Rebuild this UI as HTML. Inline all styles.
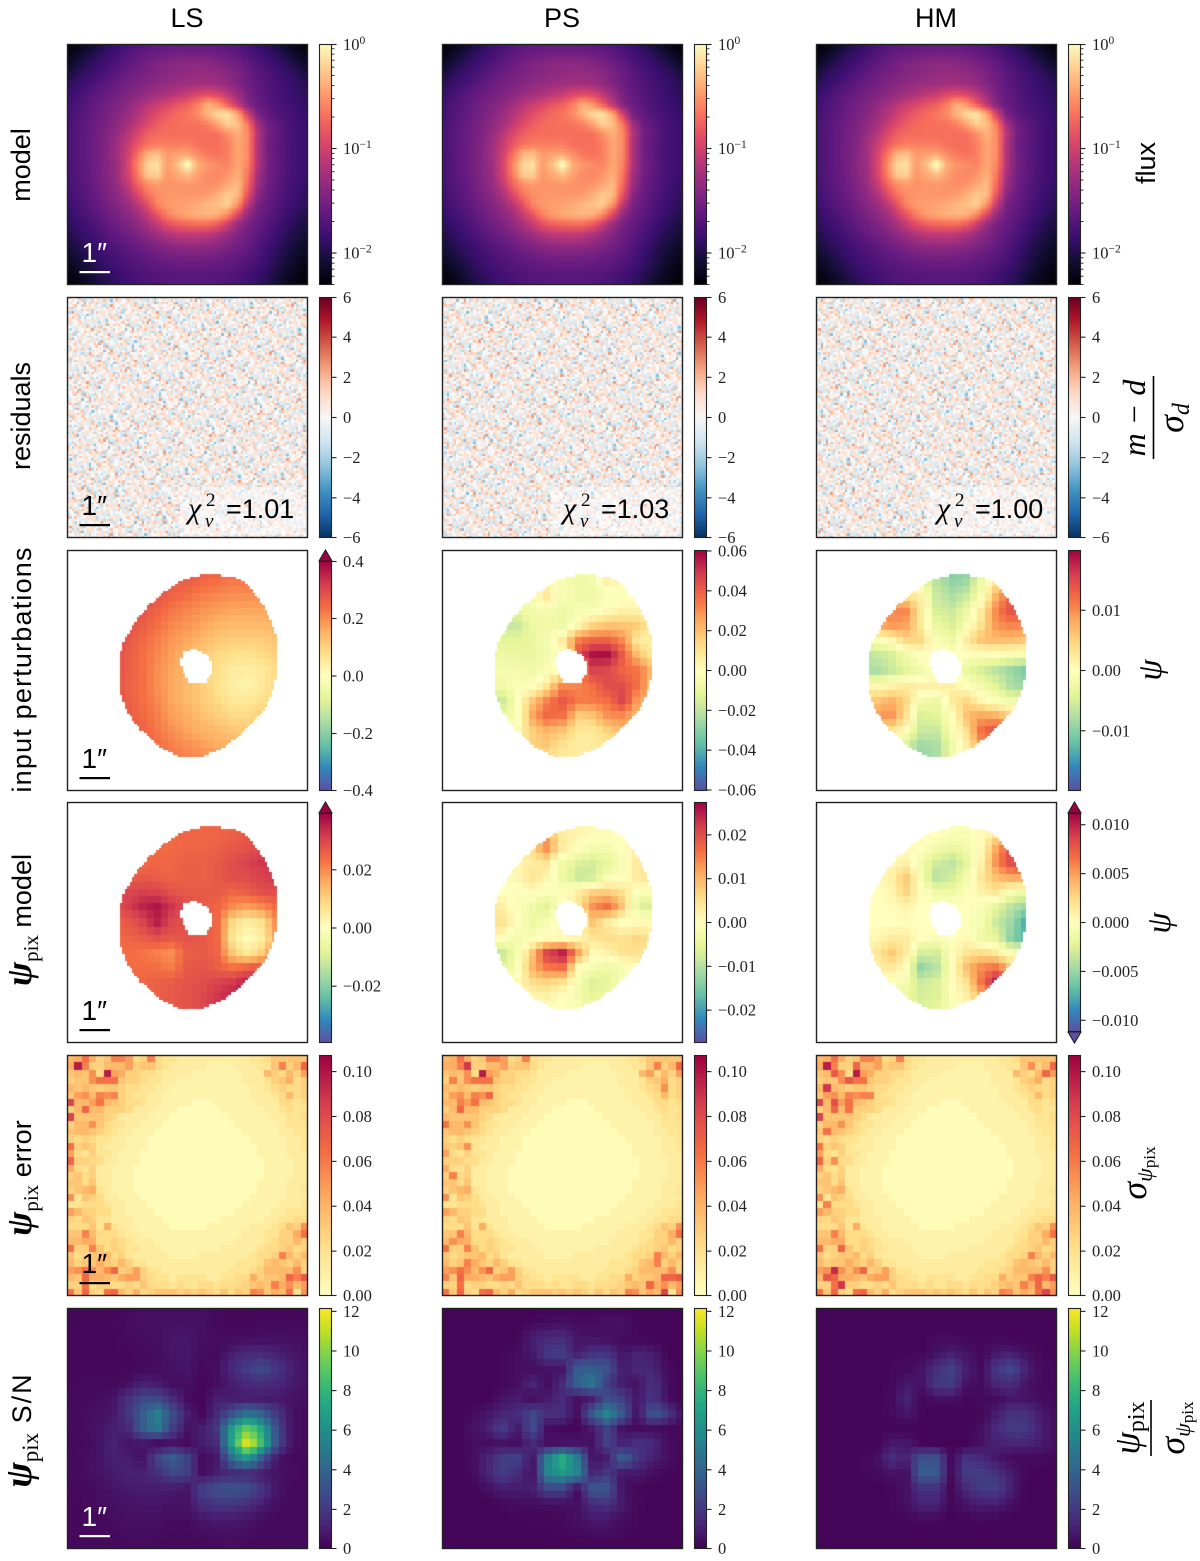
<!DOCTYPE html>
<html lang="en">
<head>
<meta charset="utf-8">
<title>Lens model comparison</title>
<style>
html,body{margin:0;padding:0;background:#fff}
#figure{position:relative;width:1200px;height:1561px;overflow:hidden;background:#fff}
#figure canvas{position:absolute;display:block}
#overlay{position:absolute;left:0;top:0}
.sans{font-family:"Liberation Sans",sans-serif}
.serif{font-family:"Liberation Serif",serif}
.tick{font-family:"Liberation Serif",serif;font-size:16.5px;fill:#222}
</style>
</head>
<body>
<div id="figure">
<svg id="overlay" width="1200" height="1561" viewBox="0 0 1200 1561">
  <g id="marks"></g>
  <g class="sans" font-size="27" fill="#000" text-anchor="middle">
    <text x="187" y="27">LS</text>
    <text x="562" y="27">PS</text>
    <text x="936" y="27">HM</text>
    <text transform="translate(30,165) rotate(-90)">model</text>
    <text transform="translate(30,416) rotate(-90)">residuals</text>
    <text transform="translate(31,670) rotate(-90)" textLength="245">input perturbations</text>
    <text transform="translate(31,920) rotate(-90)"><tspan class="serif" font-style="italic" font-weight="bold" font-size="36">ψ</tspan><tspan class="serif" font-size="21" dy="7">pix</tspan><tspan dy="-7"> model</tspan></text>
    <text transform="translate(31,1178) rotate(-90)"><tspan class="serif" font-style="italic" font-weight="bold" font-size="36">ψ</tspan><tspan class="serif" font-size="21" dy="7">pix</tspan><tspan dy="-7"> error</tspan></text>
    <text transform="translate(31,1430) rotate(-90)"><tspan class="serif" font-style="italic" font-weight="bold" font-size="38">ψ</tspan><tspan class="serif" font-size="23" dy="7">pix</tspan><tspan dy="-7" letter-spacing="2"> S/N</tspan></text>
    <text transform="translate(1155,163) rotate(-90)">flux</text>
  </g>
  <g class="serif" fill="#000" text-anchor="middle">
    <text transform="translate(1145,418) rotate(-90)" font-size="32" font-style="italic">m − d</text>
    <line x1="1153.5" y1="376" x2="1153.5" y2="459" stroke="#000" stroke-width="1.6"></line>
    <text transform="translate(1183,418) rotate(-90)" font-size="36" font-style="italic">σ<tspan font-size="24" dy="6">d</tspan></text>
    <text transform="translate(1161,670) rotate(-90)" font-size="34" font-style="italic">ψ</text>
    <text transform="translate(1170,923) rotate(-90)" font-size="34" font-style="italic">ψ</text>
    <text transform="translate(1146,1173) rotate(-90)" font-size="36"><tspan font-style="italic">σ</tspan><tspan font-size="22" font-style="italic" dy="6">ψ</tspan><tspan font-size="17" dy="3">pix</tspan></text>
    <text transform="translate(1139,1428) rotate(-90)" font-size="36"><tspan font-style="italic">ψ</tspan><tspan font-size="24" dy="5">pix</tspan></text>
    <line x1="1151" y1="1400" x2="1151" y2="1456" stroke="#000" stroke-width="1.6"></line>
    <text transform="translate(1184,1428) rotate(-90)" font-size="36"><tspan font-style="italic">σ</tspan><tspan font-size="22" font-style="italic" dy="6">ψ</tspan><tspan font-size="17" dy="3">pix</tspan></text>
  </g>
</svg>
</div>
<script>
// ---- value grids ----
// model: -100*log10(flux), 25x25 nodes
const modelLogFlux=[
[230,225,215,205,195,185,178,172,168,165,163,162,162,162,163,165,168,172,178,185,195,205,215,225,230],
[225,215,205,195,187,180,172,165,160,157,155,153,152,152,153,156,160,165,172,180,187,195,205,215,225],
[215,205,195,187,180,172,165,158,152,147,143,140,138,138,140,143,148,155,163,172,180,187,195,205,215],
[205,195,187,180,172,165,158,152,148,143,140,137,135,133,133,135,140,148,157,166,174,181,188,195,205],
[195,187,180,172,165,158,152,147,142,137,133,130,128,125,125,128,135,145,155,165,172,178,184,190,198],
[187,180,172,165,158,152,146,140,133,126,120,112,105,95,90,95,110,130,150,162,170,177,183,188,193],
[182,175,168,160,153,146,138,128,115,105,95,85,78,62,38,50,80,112,145,158,167,175,181,186,190],
[180,172,165,157,150,142,132,118,103,90,80,72,65,55,35,18,10,40,100,150,162,172,177,183,188],
[178,170,163,155,148,138,125,110,92,80,72,70,68,68,62,45,22,30,62,125,155,165,175,182,187],
[177,170,162,154,145,132,115,95,78,72,70,70,70,70,70,68,55,38,55,115,150,163,174,181,187],
[177,170,162,153,143,128,108,85,68,62,62,62,62,68,70,70,62,42,55,120,155,165,175,181,187],
[178,170,162,153,142,126,103,70,35,30,48,45,42,55,65,68,62,42,55,118,152,165,175,181,187],
[178,170,162,153,142,130,100,60,20,14,48,30,-5,38,50,55,60,42,58,118,150,163,174,181,187],
[178,170,163,154,143,130,102,65,25,22,50,42,30,45,55,58,52,38,65,125,152,165,175,181,187],
[180,172,165,155,145,133,110,78,55,48,52,50,50,52,55,52,42,32,72,130,155,166,176,183,190],
[182,174,167,158,148,138,122,95,68,55,50,50,50,50,48,38,25,32,85,140,158,168,178,186,192],
[185,177,170,162,152,143,132,115,88,58,48,46,44,40,34,30,22,50,110,150,160,172,181,188,195],
[190,182,175,167,157,149,140,128,108,85,60,48,42,37,35,38,55,95,135,155,165,175,185,193,200],
[195,187,180,172,163,155,147,138,125,108,90,80,75,72,72,82,105,132,150,160,170,180,190,198,205],
[200,192,185,177,170,162,155,148,138,128,118,112,110,108,112,120,132,145,155,165,175,185,195,203,210],
[207,198,190,183,176,170,163,157,150,145,138,134,132,132,134,138,145,152,160,170,180,190,200,208,215],
[213,205,196,188,181,175,170,165,160,155,152,150,148,148,150,152,156,160,167,175,185,195,205,213,220],
[220,212,203,194,186,180,175,171,167,164,161,160,160,160,160,161,164,167,173,180,189,199,209,218,225],
[226,220,210,200,192,185,180,176,172,170,169,168,168,168,168,169,171,175,180,187,195,205,215,223,228],
[230,226,217,207,198,190,184,179,175,172,170,168,168,168,168,170,172,176,182,190,199,210,220,227,230]];
// residual sample, in sigma
const residualSample=[
[1,-1,0,2,-1,1,0,-2,1,0,-1,1,2,0,-1,-3,1,0,1,-1],
[0,2,-1,0,1,-2,1,1,-1,2,0,-1,0,1,3,0,-1,1,-2,0],
[-1,0,1,-2,0,1,3,-1,0,1,-2,1,-1,0,1,-1,2,0,1,1],
[2,-1,0,1,1,-1,0,1,-3,0,1,0,2,-1,0,1,-1,-2,0,1],
[0,1,-2,0,2,0,-1,1,0,1,-1,0,1,-2,1,0,1,0,-1,2],
[-1,1,0,-1,0,1,2,-1,1,-2,0,3,0,1,-1,0,-2,1,1,0],
[1,0,3,-1,1,-1,0,1,0,1,-1,0,-1,1,0,2,0,-1,0,-2],
[0,-2,1,0,-1,2,1,0,-1,0,2,-1,1,0,-3,1,1,0,2,-1],
[1,1,-1,2,0,0,-2,1,2,-1,0,1,0,-1,1,0,-1,2,0,1],
[-1,0,1,0,-3,1,0,-1,0,1,1,-2,2,0,1,-1,0,1,-1,0],
[2,-1,0,1,1,-1,1,0,-2,0,-1,1,0,1,0,2,-1,0,1,-2],
[0,1,-1,-2,0,2,0,1,1,-1,3,0,-1,-1,1,0,1,-2,0,1],
[-2,0,2,1,-1,0,-1,2,0,0,-1,1,1,0,-2,1,0,1,1,-1],
[1,-1,0,0,1,-2,1,0,-1,2,0,-1,0,2,0,-1,1,0,-1,3],
[0,3,-1,1,0,1,0,-2,1,0,1,0,-3,1,-1,0,2,-1,0,1],
[-1,0,1,-1,2,0,-1,1,0,-1,2,1,0,-1,1,1,0,0,-2,0],
[1,-2,0,1,0,-1,2,0,1,1,-1,0,1,0,2,-2,-1,1,0,1],
[0,1,1,-1,-2,1,0,-1,3,0,0,-2,1,-1,0,1,0,2,1,-1],
[-1,2,0,0,1,-1,1,1,-1,-2,1,0,2,0,-1,0,-1,1,0,2],
[1,0,-1,2,0,1,-3,0,1,0,-1,2,-1,1,0,1,2,-1,-1,0]];
// input perturbations, 17x17 nodes
const inputLS=[ // units 0.01
[31,31,31,31,31,30,30,30,30,30,30,30,30,30,30,30,30],
[31,31,31,31,31,31,31,29,29,28,27,27,27,27,28,29,30],
[31,31,31,31,31,31,30,27,27,25,24,23,23,24,24,26,27],
[31,31,31,31,31,30,28,26,24,22,21,20,20,20,21,23,25],
[31,31,31,30,29,28,26,23,21,19,18,17,17,17,18,20,23],
[31,31,31,30,29,27,24,21,19,17,15,14,14,14,16,18,20],
[31,31,31,30,28,25,22,19,17,14,12,11,11,11,13,15,18],
[30,30,30,29,27,24,21,18,15,12,9,8,7,9,11,14,17],
[30,30,30,29,27,24,20,17,14,11,8,5,4,6,9,12,16],
[30,30,30,29,26,24,20,17,14,11,7,4,3,6,9,12,16],
[30,30,30,29,27,24,21,17,14,11,9,6,6,8,11,14,17],
[30,30,30,29,27,25,22,18,16,13,11,9,9,11,13,15,18],
[30,30,30,29,28,26,23,20,17,15,14,12,12,13,15,17,20],
[31,31,31,30,28,27,24,22,20,18,16,16,16,17,18,20,22],
[31,31,31,30,29,28,26,24,22,21,20,19,19,20,21,23,25],
[31,31,31,31,30,29,27,26,24,23,22,22,22,23,24,25,27],
[31,31,31,31,31,30,28,27,25,24,23,23,23,24,25,26,28]];
const inputPS=[ // units 0.001
[-3,-3,-3,-3,-3,-3,-3,-3,-3,-3,-3,-3,-3,-3,-3,-3,-3],
[-3,-3,-3,-3,-3,-3,-3,-3,-3,-6,-6,3,3,3,3,3,3],
[-3,-3,-3,-3,-3,-3,-3,-3,-4,-8,-5,8,3,3,3,3,3],
[-3,-3,-3,-3,-3,-3,-4,12,-3,-8,-8,-3,-3,2,2,2,2],
[-10,-10,-10,-10,-12,-8,-6,-4,-8,-5,-4,1,5,3,2,2,2],
[-18,-18,-18,-18,-18,-20,-8,-8,-9,2,14,18,18,18,5,5,5],
[-12,-12,-12,-12,-12,-12,-10,-5,8,33,38,38,30,6,6,6,6],
[-8,-8,-8,-8,-8,-10,-11,-6,0,45,58,58,40,18,8,8,8],
[-5,-5,-5,-5,-5,-5,-7,-3,5,30,48,45,38,35,20,20,20],
[-8,-8,-8,-8,-8,-3,-2,10,32,32,36,45,45,35,18,18,18],
[-18,-18,-18,-18,-20,-3,18,33,42,34,34,36,48,25,25,25,25],
[-8,-8,-8,-8,-8,-5,25,38,35,15,18,30,30,20,20,20,20],
[2,2,2,2,2,2,15,22,18,8,8,15,22,20,20,20,20],
[8,8,8,8,8,8,15,18,10,6,8,8,8,8,8,8,8],
[8,8,8,8,8,8,10,10,8,6,8,8,8,8,8,8,8],
[8,8,8,8,8,8,8,8,8,8,8,8,8,8,8,8,8],
[8,8,8,8,8,8,8,8,8,8,8,8,8,8,8,8,8]];
const inputHM=[ // units 0.001
[-10,-10,-10,-10,-10,-10,-10,-10,-10,-10,-10,-10,-10,-10,-10,-10,-10],
[-2,-2,-2,-2,-2,-2,-2,-2,-8,-10,-10,-3,2,4,4,4,4],
[-2,-2,-2,-2,-2,-2,-1,-2,-7,-10,-9,-2,3,6,6,6,6],
[5,5,5,5,5,5,3,2,-6,-8,-6,-1,8,13,13,13,13],
[10,10,10,10,10,10,11,3,-5,-6,-3,3,11,15,15,15,15],
[8,8,8,8,8,10,9,3,-3,-5,-1,4,10,11,10,10,10],
[-2,-2,-2,-2,-1,1,5,5,-1,-3,3,7,7,7,6,6,6],
[-7,-7,-7,-7,-6,-5,-2,0,0,0,0,-1,0,-1,-1,-1,-1],
[-8,-8,-8,-8,-8,-6,-4,-2,0,0,-3,-5,-7,-9,-11,-11,-11],
[2,2,2,2,1,2,3,2,2,2,0,-2,-4,-8,-9,-9,-9],
[6,6,6,6,6,8,5,-2,-3,3,5,1,-1,-2,-2,-2,-2],
[9,9,9,9,9,10,4,-5,-4,0,7,9,8,5,5,5,5],
[3,3,3,3,3,3,0,-6,-6,-1,4,13,15,15,15,15,15],
[-5,-5,-5,-5,-5,-5,-5,-9,-8,-2,2,9,9,9,9,9,9],
[-5,-5,-5,-5,-5,-5,-6,-9,-8,-2,1,5,5,5,5,5,5],
[-5,-5,-5,-5,-5,-5,-5,-5,-5,-2,0,2,2,2,2,2,2],
[-5,-5,-5,-5,-5,-5,-5,-5,-5,-2,0,2,2,2,2,2,2]];
// psi_pix model, 17x17 nodes, units 0.001
const psiLS=[
[25,25,25,25,25,25,25,25,25,25,25,25,25,25,25,25,25],
[25,25,25,25,25,25,25,25,25,25,25,25,25,25,25,25,25],
[25,25,25,25,25,25,25,25,25,25,25,26,27,27,27,27,27],
[25,25,25,25,25,25,24,24,25,25,26,27,28,30,30,30,30],
[24,24,24,24,24,24,25,25,26,26,27,29,31,33,33,33,33],
[26,26,26,26,26,27,26,25,26,26,27,29,29,31,33,33,33],
[28,28,28,28,30,31,31,28,27,27,27,25,27,29,29,29,29],
[29,29,29,29,31,35,37,33,29,27,25,20,18,21,25,25,25],
[26,26,26,26,27,30,36,30,28,27,24,8,4,8,22,23,23],
[24,24,24,24,25,26,28,27,28,27,24,5,0,5,20,23,23],
[23,23,23,23,24,23,21,19,26,27,25,11,5,12,24,24,24],
[24,24,24,24,24,24,24,22,27,28,26,24,27,28,28,28,28],
[25,25,25,25,25,25,26,27,28,29,31,33,37,37,37,37,37],
[25,25,25,25,25,25,26,27,28,30,33,35,37,37,37,37,37],
[27,27,27,27,27,27,27,27,28,30,33,35,37,37,37,37,37],
[27,27,27,27,27,27,27,27,28,30,33,35,37,37,37,37,37],
[27,27,27,27,27,27,27,27,28,30,33,35,37,37,37,37,37]];
const psiPS=[
[1,1,1,1,1,1,1,1,1,1,1,1,1,1,1,1,1],
[1,1,1,1,1,1,1,1,1,1,1,1,1,1,1,1,1],
[1,1,1,1,1,1,1,10,3,2,1,1,0,1,1,1,1],
[2,2,2,2,2,2,6,15,4,0,-2,-2,0,3,3,3,3],
[3,3,3,3,3,2,3,5,-3,-6,-7,-5,-1,4,4,4,4],
[1,1,1,1,1,1,5,2,-4,-9,-8,-2,-1,4,4,4,4],
[0,0,0,0,0,-1,1,-1,-1,3,7,7,5,-1,-1,-1,-1],
[4,4,4,4,3,-1,-3,-6,0,5,14,17,8,-6,-7,-7,-7],
[5,5,5,5,5,0,-4,-2,0,1,9,3,0,1,1,1,1],
[1,1,1,1,0,-3,-1,1,1,2,4,6,5,7,4,4,4],
[-9,-9,-9,-9,-9,-3,8,22,26,12,0,2,5,5,4,4,4],
[-6,-6,-6,-6,-6,-2,10,15,16,-1,-2,-4,-2,0,0,0,0],
[-1,-1,-1,-1,-1,1,5,6,4,-2,-7,-5,-1,-1,-1,-1,-1],
[0,0,0,0,0,0,1,2,0,-3,-5,-3,-1,-1,-1,-1,-1],
[0,0,0,0,0,0,0,0,0,-1,-2,-1,0,0,0,0,0],
[0,0,0,0,0,0,0,0,0,0,0,0,0,0,0,0,0],
[0,0,0,0,0,0,0,0,0,0,0,0,0,0,0,0,0]];
const psiHM=[
[.3,.3,.3,.3,.3,.3,.3,.3,.3,.3,.3,.3,.3,.3,.3,.3,.3],
[.3,.3,.3,.3,.3,.3,.3,.3,.3,.3,.3,.3,.5,.5,.5,.5,.5],
[.3,.3,.3,.3,.3,.3,.3,.3,.2,-.5,-.7,.3,.8,1,1,1,1],
[.3,.3,.3,.3,.3,.3,.3,.2,-1,-1.5,-1,.5,5,8,8,8,8],
[.3,.3,.3,.3,.3,.5,.8,-1,-3,-4,-2,1,6,9,9,9,9],
[.5,.5,.5,.5,.5,1,3.5,-.5,-4,-3,-1,2,4,5,5,5,5],
[-.3,-.3,-.3,-.3,-.3,.5,3,.3,-1.5,-1.5,-.3,1,2,-1,-1,-1,-1],
[0,0,0,0,0,.2,1,0,0,0,-.2,-.5,-2,-4,-5,-5,-5],
[0,0,0,0,0,0,.2,0,0,0,-.2,-1,-3.5,-5,-8,-8,-8],
[.5,.5,.5,.5,.5,1.5,1.5,0,-.5,0,.5,-1.5,-2,-6,-7,-7,-7],
[1.5,1.5,1.5,1.5,1.5,3.5,1.5,-3,-3,.3,2,2.5,1.5,-.5,-.5,-.5,-.5],
[1,1,1,1,1,1.5,.3,-5.5,-4,.3,4,6,7,3,3,3,3],
[-.5,-.5,-.5,-.5,-.5,-.5,-1,-3,-2.5,.3,2,7,11,11,11,11,11],
[-1,-1,-1,-1,-1,-1,-1.5,-3,-2.5,-.3,1,4,5,5,5,5,5],
[-1,-1,-1,-1,-1,-1,-1.5,-2,-2,-.3,.5,2,2,2,2,2,2],
[-1,-1,-1,-1,-1,-1,-1,-1,-1,0,0,1,1,1,1,1,1],
[-1,-1,-1,-1,-1,-1,-1,-1,-1,0,0,1,1,1,1,1,1]];
// psi_pix error, 33x33 pixels, units 0.005
const errorCells=[
[8,9,13,9,6,7,12,12,10,5,6,12,5,4,4,3,3,3,3,3,3,3,3,3,3,4,4,5,7,7,7,7,7],
[9,20,12,6,6,8,8,8,10,6,7,7,5,4,3,3,3,3,3,2,2,2,2,3,3,3,4,4,7,12,6,8,14],
[7,8,7,11,5,20,10,9,6,6,5,5,4,3,3,3,3,2,2,2,2,2,2,2,3,3,3,8,6,5,8,6,10],
[6,7,7,11,13,13,13,7,6,6,5,4,4,3,3,2,2,2,2,2,2,2,2,2,3,3,3,4,6,7,9,5,6],
[8,7,8,7,6,7,7,6,5,5,4,4,3,3,2,2,2,2,2,2,2,2,2,2,2,3,3,4,5,6,5,5,6],
[7,10,11,8,12,11,12,6,5,4,4,3,3,2,2,2,2,2,2,2,2,2,2,2,2,3,3,3,4,5,8,5,6],
[17,8,8,10,13,8,7,6,5,5,4,3,3,2,2,2,2,1,1,1,2,2,2,2,2,2,3,3,3,5,5,4,5],
[6,8,14,8,8,6,6,6,5,3,3,3,2,2,2,1,1,1,1,1,1,2,2,2,2,2,2,3,3,4,5,4,4],
[17,7,7,7,7,6,5,3,3,3,3,2,2,2,1,1,1,1,1,1,1,1,2,2,2,2,2,2,3,3,4,4,5],
[6,8,8,11,7,5,4,4,3,3,2,2,2,1,1,1,1,1,1,1,1,1,1,2,2,2,2,2,2,3,4,4,4],
[7,8,8,7,6,5,4,3,3,2,2,2,1,1,1,1,1,1,1,1,1,1,1,1,2,2,2,2,2,3,3,4,4],
[6,5,6,5,4,4,3,3,2,2,2,1,1,1,1,1,1,1,1,1,1,1,1,1,1,2,2,2,2,2,3,3,4],
[13,6,7,6,4,3,3,3,2,2,2,1,1,1,1,1,1,1,1,1,1,1,1,1,1,1,2,2,2,2,3,3,4],
[10,5,4,6,4,4,3,2,2,2,1,1,1,1,1,1,1,1,1,1,1,1,1,1,1,1,2,2,2,2,3,3,3],
[14,6,6,5,5,3,3,2,2,2,1,1,1,1,1,1,1,1,1,1,1,1,1,1,1,1,1,2,2,2,2,3,3],
[9,5,4,6,3,3,2,2,2,1,1,1,1,1,1,1,1,1,1,1,1,1,1,1,1,1,1,2,2,2,2,3,3],
[6,7,5,6,3,3,2,2,2,1,1,1,1,1,1,1,1,1,1,1,1,1,1,1,1,1,1,2,2,2,2,3,3],
[7,7,5,7,3,3,2,2,2,1,1,1,1,1,1,1,1,1,1,1,1,1,1,1,1,1,2,2,2,2,3,3,3],
[6,7,8,9,4,3,2,2,2,1,1,1,1,1,1,1,1,1,1,1,1,1,1,1,1,1,2,2,2,2,3,3,4],
[11,4,7,6,5,3,3,2,2,2,1,1,1,1,1,1,1,1,1,1,1,1,1,1,1,2,2,2,2,2,3,3,3],
[4,4,5,5,5,4,3,3,2,2,2,1,1,1,1,1,1,1,1,1,1,1,1,1,2,2,2,2,2,3,3,3,4],
[10,8,6,6,5,5,3,3,2,2,2,2,1,1,1,1,1,1,1,1,1,1,1,2,2,2,2,2,3,3,4,4,4],
[6,5,7,6,4,4,3,3,3,2,2,2,2,1,1,1,1,1,1,1,1,2,2,2,2,2,2,3,3,4,4,5,5],
[5,5,5,7,4,9,4,3,3,2,2,2,2,2,1,1,1,1,1,2,2,2,2,2,2,3,3,3,4,5,7,6,11],
[7,7,12,8,5,5,5,4,3,3,2,2,2,2,2,2,2,2,2,2,2,2,2,2,3,3,3,4,4,6,6,9,13],
[8,8,9,9,5,5,6,5,4,3,3,3,2,2,2,2,2,2,2,2,2,2,2,3,3,3,3,4,5,6,6,8,6],
[13,6,6,12,7,5,6,5,4,4,3,3,3,2,2,2,2,2,2,2,2,3,3,3,3,3,4,5,5,6,7,5,6],
[7,5,6,7,7,8,5,6,4,3,3,3,3,3,2,2,2,2,3,3,3,3,3,3,3,4,5,5,6,12,8,6,8],
[8,6,7,7,9,7,6,8,6,4,4,3,3,3,3,3,3,3,3,3,3,3,3,4,4,4,5,7,8,7,6,8,6],
[10,11,13,11,8,11,14,6,7,10,6,4,4,3,3,3,3,3,3,3,3,3,4,4,4,5,6,8,8,8,8,11,6],
[8,7,14,9,9,8,7,9,10,10,6,5,4,4,3,4,4,4,4,3,3,4,4,5,5,9,6,7,7,8,14,12,15],
[6,6,13,5,6,6,5,5,6,5,7,5,5,5,4,5,4,4,5,5,4,5,5,5,6,7,8,7,12,9,11,8,10],
[13,7,14,6,5,13,14,8,6,9,5,6,7,7,7,6,7,6,7,6,5,7,5,7,6,12,11,7,9,8,13,4,11]];
// cells where PS / HM differ from the shared error map: [row, column, value]
const errorCellsPS=[[1,3,18],[3,1,12],[5,6,14],[6,2,12],[9,0,13],[12,3,11],[16,1,12],[25,1,11],[28,3,12],[30,0,12],[31,28,14],[32,30,17],[30,31,14],[28,29,12],[4,30,11],[2,28,10],[1,5,6],[1,1,9],[6,0,8],[8,0,8],[12,0,7],[14,0,6]];
const errorCellsHM=[[2,2,15],[1,5,14],[4,1,18],[3,4,15],[6,2,16],[7,4,13],[5,7,12],[10,1,13],[14,2,11],[20,1,12],[26,3,14],[29,2,19],[31,3,18],[30,1,15],[31,30,14],[32,31,17],[30,29,12],[2,31,14],[1,29,11]];
// psi_pix S/N, 17x17 nodes
const snrLS=[
[.2,.2,.2,.2,.3,.4,.4,.4,.4,.4,.3,.2,.2,.2,.2,.2,.2],
[.2,.2,.2,.2,.4,.5,.5,.6,.6,.5,.3,.2,.2,.3,.3,.3,.3],
[.2,.2,.2,.2,.3,.4,.5,.7,.7,.5,.4,.3,.4,.5,.5,.5,.4],
[.2,.2,.2,.2,.2,.3,.4,.7,.7,.4,.3,1,1.4,1.4,1,.7,.5],
[.2,.2,.2,.2,.2,.3,.4,.6,.7,.3,.5,1.5,2.2,2.8,1.8,1,.6],
[.2,.3,.3,.3,.4,1,.8,.3,.5,.2,.4,1,1.5,1.6,1.3,.8,.5],
[.3,.3,.4,.5,1.6,2.6,2.6,1.5,.3,.2,1,.8,.8,.8,.8,.6,.4],
[.3,.4,.5,.7,1.8,3.5,5.5,2.8,1,.2,1.5,3,4.5,3.5,1.8,.5,.3],
[.3,.4,.6,1,1.2,3.5,5,2.2,.6,1,2,7,9.5,7,2.5,.5,.3],
[.3,.3,.5,1.2,.6,.8,.3,.6,.3,.9,1.5,7.5,12,8,2.5,.5,.3],
[.3,.4,.6,1.1,1,.4,2.5,3.8,2.5,.3,.8,4.5,6.5,3,.5,.3,.3],
[.3,.4,.6,.8,1.1,1.1,1.5,2.5,2.2,.4,1,1.2,1.2,.8,.6,.4,.3],
[.3,.3,.4,.7,.8,.9,.9,.8,.6,2.4,3,3.2,3,1.8,.6,.3,.3],
[.2,.3,.4,.5,.6,.7,.7,.6,.6,1.6,2,1.9,1.5,1,.4,.3,.3],
[.2,.3,.3,.4,.5,.5,.5,.4,.4,.7,.9,.9,.7,.4,.3,.3,.3],
[.2,.3,.3,.3,.4,.4,.4,.3,.3,.4,.5,.5,.4,.3,.3,.3,.3],
[.3,.3,.3,.3,.3,.4,.3,.3,.3,.3,.3,.4,.3,.3,.3,.4,.3]];
const snrPS=[
[.1,.1,.1,.1,.1,.1,.1,.1,.1,.1,.1,.1,.1,.1,.1,.1,.1],
[.1,.1,.1,.1,.1,.1,.3,.4,.5,.4,.4,.6,.6,.2,.1,.1,.1],
[.1,.1,.1,.1,.1,.2,1,1.4,1.5,.7,.5,.4,.3,.2,.1,.1,.1],
[.1,.1,.1,.1,.2,.4,.9,2,2.4,.8,1.8,1.8,.6,1.2,.9,.2,.1],
[.1,.1,.1,.1,.2,.5,.3,.7,.6,3.5,3.5,3.2,.8,1.4,1.2,.3,.1],
[.1,.1,.1,.1,.2,.4,1.4,.3,1.5,4,5,2,.8,.5,1.8,.4,.1],
[.1,.1,.1,.1,.6,.9,.3,.9,1.4,.5,.9,3,2.2,.6,1.9,.4,.1],
[.1,.1,.3,.7,1.2,1.4,2.6,1.6,1.6,.4,3.5,5.8,3.2,.3,3.5,2,.3],
[.1,.1,.6,1,2.3,.7,2.8,.4,.3,.2,.9,2.5,.4,.3,.4,.3,.2],
[.1,.1,.4,.4,.6,.4,1.5,.5,.6,.7,.5,2.5,1,1.8,1.4,.4,.2],
[.1,.1,.4,1.2,2.2,2.5,.5,5.5,8,5,.5,.9,4,1.8,1,.5,.1],
[.1,.1,.3,1.2,2.2,1.5,.4,5.5,6.5,5.5,1,2.2,.5,.8,.4,.2,.1],
[.1,.1,.1,.5,.9,.9,1,2.4,2.4,.3,3.5,3.2,.5,.2,.1,.1,.1],
[.1,.1,.1,.1,.3,.4,.4,.4,.5,.5,1.5,1.8,.8,.3,.1,.1,.1],
[.1,.1,.1,.1,.1,.2,.2,.2,.3,.5,.8,.8,.4,.2,.1,.1,.1],
[.1,.1,.1,.1,.1,.1,.2,.2,.2,.3,.4,.4,.3,.2,.1,.1,.1],
[.1,.1,.1,.1,.1,.1,.1,.1,.1,.1,.1,.1,.1,.1,.1,.1,.1]];
const snrHM=[
[.1,.1,.1,.1,.1,.1,.1,.1,.1,.1,.1,.1,.1,.1,.1,.1,.1],
[.1,.1,.1,.1,.1,.1,.1,.1,.1,.1,.1,.1,.1,.1,.1,.1,.1],
[.1,.1,.1,.1,.1,.1,.1,.1,.3,.3,.2,.2,.2,.1,.1,.1,.1],
[.1,.1,.1,.1,.1,.2,.2,.2,.5,1,.6,.2,.8,1,.5,.2,.1],
[.1,.1,.1,.1,.1,.2,.3,.6,1.6,2.3,1,.3,2,2.8,1,.3,.2],
[.1,.1,.1,.1,.1,.2,.8,.6,2,2.2,.6,.3,1.4,1.6,.6,.3,.2],
[.1,.1,.1,.1,.1,.3,1.2,.2,.5,.5,.2,.4,.3,.7,.6,.4,.2],
[.1,.1,.1,.1,.2,.3,.8,.2,.1,.1,.1,.2,.9,1.8,1.6,.8,.3],
[.1,.1,.1,.1,.1,.1,.1,.1,.1,.1,.1,.5,1.5,2.2,2,1,.4],
[.1,.1,.1,.1,.1,.8,.8,.2,.1,.1,.1,.6,1.1,1.2,1.2,.9,.4],
[.1,.1,.1,.2,.4,1.6,1,3,3,.3,1.8,1.4,.6,.3,.3,.3,.2],
[.1,.1,.1,.2,.3,.6,.4,3.6,3.4,.3,2.2,2.2,1.8,.8,.2,.1,.1],
[.1,.1,.1,.1,.1,.2,.6,1.6,1.6,.2,1.4,2.2,2.2,1,.1,.1,.1],
[.1,.1,.1,.1,.1,.2,.5,1.2,1.2,.2,.7,1,1,.5,.1,.1,.1],
[.1,.1,.1,.1,.1,.1,.2,.3,.3,.1,.2,.3,.2,.1,.1,.1,.1],
[.1,.1,.1,.1,.1,.1,.1,.1,.1,.1,.1,.1,.1,.1,.1,.1,.1],
[.1,.1,.1,.1,.1,.1,.1,.1,.1,.1,.1,.1,.1,.1,.1,.1,.1]];
// tick values and printed labels
const fluxTicks=[0,-1,-2];
const fluxMinorFactors=[2,3,4,5,6,7,8,9];
const fluxTickLabels=['0','−1','−2'];
const residualTicks=[6,4,2,0,-2,-4,-6];
const residualTickLabels=['6','4','2','0','−2','−4','−6'];
const inputTicksLS=[.4,.2,0,-.2,-.4];
const inputLabelsLS=['0.4','0.2','0.0','−0.2','−0.4'];
const inputTicksPS=[.06,.04,.02,0,-.02,-.04,-.06];
const inputLabelsPS=['0.06','0.04','0.02','0.00','−0.02','−0.04','−0.06'];
const inputTicksHM=[.01,0,-.01];
const inputLabelsHM=['0.01','0.00','−0.01'];
const psiTicksLS=[.02,0,-.02];
const psiLabelsLS=['0.02','0.00','−0.02'];
const psiTicksPS=[.02,.01,0,-.01,-.02];
const psiLabelsPS=['0.02','0.01','0.00','−0.01','−0.02'];
const psiTicksHM=[.01,.005,0,-.005,-.01];
const psiLabelsHM=['0.010','0.005','0.000','−0.005','−0.010'];
const errorTicks=[.1,.08,.06,.04,.02,0];
const errorTickLabels=['0.10','0.08','0.06','0.04','0.02','0.00'];
const snrTicks=[12,10,8,6,4,2,0];
const snrTickLabels=['12','10','8','6','4','2','0'];
const chiValues=['1.01','1.03','1.00'];

// ---- colour maps ----
const MAGMA=['#000004','#140e36','#3b0f70','#641a80','#8c2981','#b5367a','#de4968','#f76f5c','#fe9f6d','#fecf92','#fcfdbf'];
const RDBU=['#053061','#2166ac','#4393c3','#92c5de','#d1e5f0','#f7f7f7','#fddbc7','#f4a582','#d6604d','#b2182b','#67001f'];
const SPECTRAL=['#5e4fa2','#3288bd','#66c2a5','#abdda4','#e6f598','#ffffbf','#fee08b','#fdae61','#f46d43','#d53e4f','#9e0142'];
const VIRIDIS=['#440154','#482576','#414487','#355f8d','#2a788e','#21918c','#22a884','#44bf70','#7ad151','#bddf26','#fde725'];
function hex(c){return [parseInt(c.slice(1,3),16),parseInt(c.slice(3,5),16),parseInt(c.slice(5,7),16)];}
function colorFrom(stops,t){
  t=Math.max(0,Math.min(1,t));
  const p=t*(stops.length-1),i=Math.min(stops.length-2,Math.floor(p)),f=p-i;
  const a=hex(stops[i]),b=hex(stops[i+1]);
  return 'rgb('+Math.round(a[0]+(b[0]-a[0])*f)+','+Math.round(a[1]+(b[1]-a[1])*f)+','+Math.round(a[2]+(b[2]-a[2])*f)+')';
}
// ---- layout ----
const colLeft=[67,442,816];
const barLeft=[319,694,1068];
const rowTop=[44,297,550,802,1055,1308];
const SIZE=241,BARW=13;
const ns='http://www.w3.org/2000/svg';
const figure=document.getElementById('figure');
const overlay=document.getElementById('overlay');
const marks=document.getElementById('marks');
// lens mask outline traced on a 721-unit panel
const lensOutline=[[455,85],[520,95],[560,115],[600,165],[630,220],[650,280],[650,380],[635,450],[600,510],[550,560],[490,605],[430,632],[360,632],[300,603],[240,550],[200,495],[180,435],[180,340],[190,290],[230,225],[265,180],[320,135],[375,100],[430,87]].map(p=>[(p[0]-22)/721,(p[1]-14)/721]);
const lensHole=[[400,310],[440,325],[455,350],[455,380],[435,410],[385,410],[370,375],[362,350],[370,320]].map(p=>[(p[0]-22)/721,(p[1]-14)/721]);
function inPoly(poly,u,v){
  let hit=false;
  for(let i=0,j=poly.length-1;i<poly.length;j=i++){
    const a=poly[i],b=poly[j];
    if((a[1]>v)!==(b[1]>v)&&u<(b[0]-a[0])*(v-a[1])/(b[1]-a[1])+a[0])hit=!hit;
  }
  return hit;
}
function inLens(u,v){return inPoly(lensOutline,u,v)&&!inPoly(lensHole,u,v);}
function bilinear(grid,u,v){
  const n=grid.length-1,m=grid[0].length-1;
  const y=Math.min(n-1e-6,v*n),x=Math.min(m-1e-6,u*m);
  const i=Math.floor(y),j=Math.floor(x),fy=y-i,fx=x-j;
  return (grid[i][j]*(1-fx)+grid[i][j+1]*fx)*(1-fy)+(grid[i+1][j]*(1-fx)+grid[i+1][j+1]*fx)*fy;
}
function errorValue(changes,u,v){
  const n=errorCells.length;
  const r=Math.min(n-1,Math.floor(v*n)),c=Math.min(n-1,Math.floor(u*n));
  let cell=errorCells[r][c];
  changes.forEach(e=>{if(e[0]===r&&e[1]===c)cell=e[2];});
  return Math.max(0,cell*.005-.002);
}
function residualValue(off,u,v){
  const n=residualSample.length;
  const r=Math.floor(v*100),c=Math.floor(u*100);
  const a=(r*7+3*Math.floor(c/n)+off)%n,b=(c*3+7*Math.floor(r/n)+off*2)%n;
  return residualSample[a][b]*.85;
}
function svg(tag,attrs,parent){
  const e=document.createElementNS(ns,tag);
  for(const k in attrs)e.setAttribute(k,attrs[k]);
  (parent||marks).appendChild(e);
  return e;
}
function drawPanel(name,c,r,cells,masked,valueAt,colorOf){
  const cv=document.createElement('canvas');
  
  
  cv.width=SIZE;cv.height=SIZE;
  cv.style.left=colLeft[c]+'px';cv.style.top=rowTop[r]+'px';
  figure.insertBefore(cv,overlay);
  const g=cv.getContext('2d');
  const fine=masked?100:cells;
  const edge=k=>Math.round(k*SIZE/fine);
  for(let y=0;y<fine;y++)for(let x=0;x<fine;x++){
    const u=(x+.5)/fine,v=(y+.5)/fine;
    if(masked&&!inLens(u,v))continue;
    const cu=(Math.floor(u*cells)+.5)/cells,cvv=(Math.floor(v*cells)+.5)/cells;
    g.fillStyle=colorOf(valueAt(cu,cvv));
    g.fillRect(edge(x),edge(y),edge(x+1)-edge(x),edge(y+1)-edge(y));
  }
  const frame=svg('rect',{x:colLeft[c]+.5,y:rowTop[r]+.5,width:SIZE-1,height:SIZE-1,fill:'none',stroke:'#222','stroke-width':1.4});
  
  
}
function drawColorbar(name,c,r,o){
  const top=rowTop[r]+(o.up?11:0),bottom=rowTop[r]+SIZE-(o.down?11:0);
  const x=barLeft[c],h=bottom-top;
  const cv=document.createElement('canvas');
  
  
  cv.width=BARW;cv.height=h;
  cv.style.left=x+'px';cv.style.top=top+'px';
  figure.insertBefore(cv,overlay);
  const g=cv.getContext('2d');
  for(let k=0;k<h;k++){
    g.fillStyle=o.color(o.vmax-(k+.5)/h*(o.vmax-o.vmin));
    g.fillRect(0,k,BARW,1);
  }
  const yOf=v=>bottom-(v-o.vmin)/(o.vmax-o.vmin)*h;
  const ptsTop=x+','+top+' '+(x+BARW/2)+','+rowTop[r]+' '+(x+BARW)+','+top;
  const ptsBot=x+','+bottom+' '+(x+BARW/2)+','+(rowTop[r]+SIZE)+' '+(x+BARW)+','+bottom;
  if(o.up){
    const tri=svg('polygon',{points:ptsTop,fill:o.color(o.vmax),stroke:'#222','stroke-width':1.1});
    
    
  }
  if(o.down){
    const tri=svg('polygon',{points:ptsBot,fill:o.color(o.vmin),stroke:'#222','stroke-width':1.1});
    
    
  }
  const frame=svg('rect',{x:x+.5,y:top+.5,width:BARW-1,height:h-1,fill:'none',stroke:'#222','stroke-width':1.1});
  
  
  o.ticks.forEach((t,i)=>{
    const y=Math.min(bottom-.5,Math.max(top+.5,yOf(t)));
    const tk=svg('line',{x1:x+BARW-.5,x2:x+BARW+4.5,y1:y,y2:y,stroke:'#222','stroke-width':1.1});
    
    
    const lab=svg('text',{x:x+BARW+11,y:y+5.5,class:'tick'});
    
    
    if(o.log){
      lab.textContent='10';
      const sup=svg('tspan',{dy:-6,'font-size':11.5},lab);
      
      
      sup.textContent=o.labels[i];
    }else lab.textContent=o.labels[i];
  });
  if(o.log){
    for(let d=o.ticks[o.ticks.length-1]-1;d<o.ticks[0];d++){
      fluxMinorFactors.forEach(f=>{
        const lv=d+Math.log10(f);
        if(lv<o.vmin||lv>o.vmax)return;
        const mt=svg('line',{x1:x+BARW-.5,x2:x+BARW+2.5,y1:yOf(lv),y2:yOf(lv),stroke:'#222','stroke-width':.9});
        
        
      });
    }
  }
}
function drawScaleBar(name,c,r,color){
  const x=colLeft[c]+12.5,y=rowTop[r]+227;
  const bar=svg('rect',{x:x,y:y,width:30.5,height:2.2,fill:color},overlay);
  
  
  const t=svg('text',{x:x+2,y:rowTop[r]+218,fill:color,'font-size':28,class:'sans'},overlay);
  
  
  t.textContent='1″';
}
const sp=v=>colorFrom(SPECTRAL,.5+.5*v);
const cols=['ls','ps','hm'];
const inputGrids=[inputLS,inputPS,inputHM];
const inputUnits=[.01,.001,.001];
const psiGrids=[psiLS,psiPS,psiHM];
const snrGrids=[snrLS,snrPS,snrHM];
const errorChanges=[[],errorCellsPS,errorCellsHM];
const inputRange=[.4,.0605,.02];
const psiRange=[.0395,.0275,.0112];
const inputTickSets=[inputTicksLS,inputTicksPS,inputTicksHM];
const inputLabelSets=[inputLabelsLS,inputLabelsPS,inputLabelsHM];
const psiTickSets=[psiTicksLS,psiTicksPS,psiTicksHM];
const psiLabelSets=[psiLabelsLS,psiLabelsPS,psiLabelsHM];
const FLUX_MIN=-2.306,ERR_MAX=.1074,SNR_MAX=12.17;
cols.forEach((name,c)=>{
  // model: values above the colour range saturate to white
  const fluxColor=v=>v>0.001?'#fff':colorFrom(MAGMA,(v-FLUX_MIN)/(-FLUX_MIN));
  drawPanel('model-panel-'+name,c,0,100,false,(u,v)=>-bilinear(modelLogFlux,u,v)/100,fluxColor);
  drawColorbar('model-colorbar-'+name,c,0,{vmin:FLUX_MIN,vmax:0,ticks:fluxTicks,labels:fluxTickLabels,color:fluxColor,log:true});
  // residuals
  const resColor=v=>colorFrom(RDBU,.5+v/12);
  const off=c*7;
  drawPanel('residual-panel-'+name,c,1,100,false,(u,v)=>residualValue(off,u,v),resColor);
  drawColorbar('residual-colorbar-'+name,c,1,{vmin:-6,vmax:6,ticks:residualTicks,labels:residualTickLabels,color:resColor});
  // input perturbations
  const ir=inputRange[c];
  const inColor=v=>sp(v/ir);
  drawPanel('input-perturbation-panel-'+name,c,2,33,true,(u,v)=>bilinear(inputGrids[c],u,v)*inputUnits[c],inColor);
  drawColorbar('input-perturbation-colorbar-'+name,c,2,{vmin:-ir,vmax:ir,ticks:inputTickSets[c],labels:inputLabelSets[c],color:inColor,up:c===0});
  // psi model
  const pr=psiRange[c];
  const psiColor=v=>sp(v/pr);
  drawPanel('psi-model-panel-'+name,c,3,33,true,(u,v)=>bilinear(psiGrids[c],u,v)*.001,psiColor);
  drawColorbar('psi-model-colorbar-'+name,c,3,{vmin:-pr,vmax:pr,ticks:psiTickSets[c],labels:psiLabelSets[c],color:psiColor,up:c!==1,down:c===2});
  // error
  const errColor=v=>sp(v/ERR_MAX);
  drawPanel('psi-error-panel-'+name,c,4,33,false,(u,v)=>errorValue(errorChanges[c],u,v),errColor);
  drawColorbar('psi-error-colorbar-'+name,c,4,{vmin:0,vmax:ERR_MAX,ticks:errorTicks,labels:errorTickLabels,color:errColor});
  // S/N
  const snrColor=v=>colorFrom(VIRIDIS,v/SNR_MAX);
  drawPanel('psi-snr-panel-'+name,c,5,33,false,(u,v)=>bilinear(snrGrids[c],u,v),snrColor);
  drawColorbar('psi-snr-colorbar-'+name,c,5,{vmin:0,vmax:SNR_MAX,ticks:snrTicks,labels:snrTickLabels,color:snrColor});
  // chi-square annotation
  const bx=colLeft[c]+(c===1?109:c===2?111:113);
  const box=svg('rect',{x:bx,y:rowTop[1]+190,width:colLeft[c]+238-bx,height:48,fill:'#fff','fill-opacity':.45},overlay);
  
  
  const cx=colLeft[c]+121;
  const chi=svg('text',{x:cx,y:518,'font-size':30,'font-style':'italic',class:'serif',fill:'#000'},overlay);
  
  
  chi.textContent='χ';
  const sq=svg('text',{x:cx+18,y:506,'font-size':19,class:'serif',fill:'#000'},overlay);
  
  
  sq.textContent='2';
  const nu=svg('text',{x:cx+17,y:527,'font-size':19,'font-style':'italic',class:'serif',fill:'#000'},overlay);
  
  
  nu.textContent='ν';
  const val=svg('text',{x:cx+38,y:518,'font-size':27,class:'sans',fill:'#000'},overlay);
  
  
  val.textContent='='+chiValues[c];
});
// scale bars only appear in the first column
drawScaleBar('scale-bar-model',0,0,'#fff');
drawScaleBar('scale-bar-residuals',0,1,'#000');
drawScaleBar('scale-bar-input-perturbations',0,2,'#000');
drawScaleBar('scale-bar-psi-model',0,3,'#000');
drawScaleBar('scale-bar-psi-error',0,4,'#000');
drawScaleBar('scale-bar-psi-snr',0,5,'#fff');
</script>
</body>
</html>
